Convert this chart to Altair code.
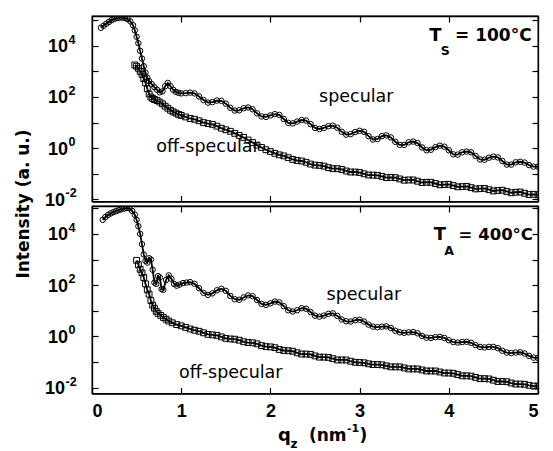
import altair as alt
import pandas as pd

# ---------------- data: (q_z [nm^-1], log10 intensity) ----------------
# Panel 1: T_S = 100 °C
spec_top = [(0.10,4.70),(0.13,4.78),(0.16,4.86),(0.19,4.93),(0.22,5.00),(0.25,5.05),(0.28,5.08),(0.31,5.10),
    (0.34,5.10),(0.37,5.08),(0.40,5.04),(0.43,4.95),(0.46,4.80),(0.48,4.60),(0.50,4.35),(0.52,4.10),
    (0.54,3.80),(0.56,3.50),(0.58,3.20),(0.60,2.95),(0.62,2.75),(0.64,2.62),(0.67,2.50),(0.70,2.38),
    (0.73,2.28),(0.76,2.18),(0.79,2.22),(0.82,2.42),(0.85,2.55),(0.88,2.42),(0.91,2.28),(0.94,2.20),
    (0.97,2.16),(1.00,2.14),(1.05,2.15),(1.10,2.17),(1.15,2.14),(1.20,2.02),(1.25,1.88),(1.30,1.78),
    (1.35,1.80),(1.40,1.86),(1.45,1.85),(1.50,1.74),(1.55,1.58),(1.60,1.47),(1.65,1.48),(1.70,1.56),
    (1.75,1.59),(1.80,1.52),(1.85,1.36),(1.90,1.24),(1.95,1.22),(2.00,1.28),(2.05,1.33),(2.10,1.30),
    (2.15,1.14),(2.20,0.99),(2.25,0.97),(2.30,1.04),(2.35,1.10),(2.40,1.08),(2.45,0.94),(2.50,0.79),
    (2.55,0.75),(2.60,0.79),(2.65,0.86),(2.70,0.88),(2.75,0.80),(2.80,0.64),(2.85,0.53),(2.90,0.55),
    (2.95,0.63),(3.00,0.68),(3.05,0.64),(3.10,0.47),(3.15,0.34),(3.20,0.36),(3.25,0.47),(3.30,0.50),
    (3.35,0.42),(3.40,0.25),(3.45,0.13),(3.50,0.13),(3.55,0.23),(3.60,0.26),(3.65,0.20),(3.70,0.03),
    (3.75,-0.08),(3.80,-0.06),(3.85,0.04),(3.90,0.10),(3.95,0.06),(4.00,-0.08),(4.05,-0.24),(4.10,-0.25),
    (4.15,-0.16),(4.20,-0.13),(4.25,-0.16),(4.30,-0.30),(4.35,-0.44),(4.40,-0.45),(4.45,-0.37),(4.50,-0.33),
    (4.55,-0.36),(4.60,-0.50),(4.65,-0.64),(4.70,-0.64),(4.75,-0.55),(4.80,-0.53),(4.85,-0.56),(4.90,-0.66),
    (4.95,-0.72),(5.00,-0.72)]

off_top = [(0.48,3.25),(0.50,3.20),(0.52,3.12),(0.54,3.00),(0.56,2.88),(0.58,2.72),(0.60,2.55),(0.62,2.32),
    (0.64,2.12),(0.66,2.00),(0.68,1.94),(0.70,1.90),(0.73,1.86),(0.76,1.80),(0.79,1.73),(0.82,1.64),
    (0.85,1.56),(0.88,1.48),(0.91,1.42),(0.94,1.37),(0.97,1.32),(1.00,1.28),(1.05,1.22),(1.10,1.16),
    (1.15,1.13),(1.20,1.07),(1.25,1.00),(1.30,0.96),(1.35,0.93),(1.40,0.86),(1.45,0.78),(1.50,0.72),
    (1.55,0.66),(1.60,0.58),(1.65,0.50),(1.70,0.42),(1.75,0.32),(1.80,0.22),(1.85,0.12),(1.90,0.03),
    (1.95,-0.06),(2.00,-0.13),(2.05,-0.20),(2.10,-0.26),(2.15,-0.30),(2.20,-0.37),(2.25,-0.44),(2.30,-0.48),
    (2.35,-0.50),(2.40,-0.55),(2.45,-0.62),(2.50,-0.66),(2.55,-0.67),(2.60,-0.70),(2.65,-0.76),(2.70,-0.80),
    (2.75,-0.80),(2.80,-0.83),(2.85,-0.89),(2.90,-0.93),(2.95,-0.93),(3.00,-0.95),(3.05,-1.00),(3.10,-1.05),
    (3.15,-1.05),(3.20,-1.06),(3.25,-1.10),(3.30,-1.15),(3.35,-1.14),(3.40,-1.15),(3.45,-1.20),(3.50,-1.25),
    (3.55,-1.24),(3.60,-1.24),(3.65,-1.29),(3.70,-1.34),(3.75,-1.33),(3.80,-1.33),(3.85,-1.38),(3.90,-1.43),
    (3.95,-1.42),(4.00,-1.41),(4.05,-1.46),(4.10,-1.51),(4.15,-1.50),(4.20,-1.49),(4.25,-1.54),(4.30,-1.59),
    (4.35,-1.58),(4.40,-1.57),(4.45,-1.62),(4.50,-1.67),(4.55,-1.65),(4.60,-1.64),(4.65,-1.69),(4.70,-1.74),
    (4.75,-1.72),(4.80,-1.71),(4.85,-1.76),(4.90,-1.81),(4.95,-1.80),(5.00,-1.82)]

# Panel 2: T_A = 400 °C
spec_bot = [(0.12,4.55),(0.15,4.66),(0.18,4.74),(0.21,4.80),(0.24,4.85),(0.27,4.89),(0.30,4.93),(0.33,4.96),
    (0.36,4.99),(0.39,5.01),(0.42,5.00),(0.45,4.90),(0.48,4.75),(0.50,4.55),(0.52,4.30),(0.54,4.00),
    (0.56,3.60),(0.58,3.20),(0.60,2.95),(0.62,2.88),(0.64,3.05),(0.66,3.00),(0.68,2.60),(0.70,2.10),
    (0.72,2.05),(0.74,2.35),(0.76,2.30),(0.78,1.85),(0.80,1.82),(0.83,2.20),(0.86,2.38),(0.89,2.25),
    (0.92,2.05),(0.95,1.98),(0.98,2.02),(1.02,2.08),(1.06,2.10),(1.10,2.12),(1.15,2.05),(1.20,1.88),
    (1.25,1.70),(1.30,1.62),(1.35,1.68),(1.40,1.80),(1.45,1.86),(1.50,1.78),(1.55,1.58),(1.60,1.45),
    (1.65,1.43),(1.70,1.52),(1.75,1.60),(1.80,1.57),(1.85,1.42),(1.90,1.27),(1.95,1.23),(2.00,1.29),
    (2.05,1.36),(2.10,1.33),(2.15,1.18),(2.20,1.02),(2.25,0.97),(2.30,1.02),(2.35,1.10),(2.40,1.08),
    (2.45,0.95),(2.50,0.81),(2.55,0.77),(2.60,0.81),(2.65,0.88),(2.70,0.90),(2.75,0.80),(2.80,0.66),
    (2.85,0.59),(2.90,0.58),(2.95,0.63),(3.00,0.65),(3.05,0.58),(3.10,0.46),(3.15,0.38),(3.20,0.36),
    (3.25,0.38),(3.30,0.39),(3.35,0.33),(3.40,0.22),(3.45,0.16),(3.50,0.14),(3.55,0.16),(3.60,0.17),
    (3.65,0.12),(3.70,0.02),(3.75,-0.05),(3.80,-0.06),(3.85,-0.03),(3.90,-0.02),(3.95,-0.06),(4.00,-0.15),
    (4.05,-0.22),(4.10,-0.24),(4.15,-0.22),(4.20,-0.21),(4.25,-0.25),(4.30,-0.34),(4.35,-0.41),(4.40,-0.43),
    (4.45,-0.41),(4.50,-0.41),(4.55,-0.46),(4.60,-0.56),(4.65,-0.63),(4.70,-0.65),(4.75,-0.63),(4.80,-0.62),
    (4.85,-0.67),(4.90,-0.76),(4.95,-0.83),(5.00,-0.84)]

off_bot = [(0.50,2.97),(0.52,2.80),(0.54,2.62),(0.56,2.48),(0.58,2.30),(0.60,2.05),(0.62,1.82),(0.64,1.65),
    (0.66,1.40),(0.68,1.22),(0.70,1.10),(0.72,0.98),(0.74,0.90),(0.77,0.82),(0.80,0.74),(0.83,0.67),
    (0.86,0.60),(0.90,0.53),(0.95,0.46),(1.00,0.41),(1.05,0.35),(1.10,0.29),(1.15,0.24),(1.20,0.20),
    (1.25,0.14),(1.30,0.08),(1.35,0.06),(1.40,0.04),(1.45,-0.02),(1.50,-0.08),(1.55,-0.10),(1.60,-0.11),
    (1.65,-0.15),(1.70,-0.21),(1.75,-0.24),(1.80,-0.25),(1.85,-0.29),(1.90,-0.36),(1.95,-0.40),(2.00,-0.41),
    (2.05,-0.44),(2.10,-0.51),(2.15,-0.55),(2.20,-0.56),(2.25,-0.58),(2.30,-0.64),(2.35,-0.69),(2.40,-0.69),
    (2.45,-0.70),(2.50,-0.76),(2.55,-0.81),(2.60,-0.81),(2.65,-0.82),(2.70,-0.87),(2.75,-0.92),(2.80,-0.92),
    (2.85,-0.92),(2.90,-0.97),(2.95,-1.01),(3.00,-1.02),(3.05,-1.03),(3.10,-1.07),(3.15,-1.10),(3.20,-1.10),
    (3.25,-1.11),(3.30,-1.15),(3.35,-1.19),(3.40,-1.19),(3.45,-1.19),(3.50,-1.23),(3.55,-1.27),(3.60,-1.27),
    (3.65,-1.27),(3.70,-1.31),(3.75,-1.35),(3.80,-1.35),(3.85,-1.35),(3.90,-1.39),(3.95,-1.43),(4.00,-1.43),
    (4.05,-1.44),(4.10,-1.49),(4.15,-1.54),(4.20,-1.54),(4.25,-1.55),(4.30,-1.60),(4.35,-1.65),(4.40,-1.65),
    (4.45,-1.66),(4.50,-1.71),(4.55,-1.76),(4.60,-1.76),(4.65,-1.77),(4.70,-1.82),(4.75,-1.86),(4.80,-1.86),
    (4.85,-1.87),(4.90,-1.91),(4.95,-1.94),(5.00,-1.94)]

x_ticks = [0, 1, 2, 3, 4, 5]
y_tick_values = [0.01, 0.1, 1, 10, 100, 1000, 10000, 100000]
# y tick labels "10^n": labelled decade values and their exponents
y_label_values = [0.01, 1, 100, 10000]
y_label_exps = ["-2", "0", "2", "4"]

# annotation texts: (text, q, log10 I [, font size])
labels_top = [("specular", 2.545, 1.80), ("off-specular", 0.72, -0.15)]
labels_bot = [("specular", 2.63, 1.43), ("off-specular", 0.975, -1.63)]
temp_top = [("T", 3.78, 4.18, 18), ("S", 3.91, 3.64, 12.5), ("= 100°C", 4.07, 4.18, 17)]
temp_bot = [("T", 3.83, 3.75, 18), ("A", 3.95, 3.17, 12.5), ("= 400°C", 4.11, 3.75, 16.5)]

TXT = "DejaVu Sans"
TCK = "'Liberation Sans Narrow', 'Liberation Sans', sans-serif"
W = 446


def frame(pairs):
    return pd.DataFrame({"q": [p[0] for p in pairs], "I": [10 ** p[1] for p in pairs]})


def panel(spec, off, ydom, h, plain, bold, bottom, ytitle):
    xs = alt.Scale(domain=[0, 5], nice=False, zero=False)
    ys = alt.Scale(type="log", domain=ydom, nice=False)
    common = dict(grid=False, domainColor="black", domainWidth=1.3, tickColor="black",
                  tickWidth=1.2, tickSize=alt.ExprRef(expr="-6"))
    ax_x = alt.Axis(orient="bottom", values=x_ticks, labels=bottom, format="d", labelPadding=15,
                    labelFont=TCK, labelFontSize=18, labelFontWeight="bold", labelColor="black",
                    title=None, **common)
    if ytitle:
        ytitle_kw = dict(title="Intensity  (a. u.)", titleFont=TXT, titleFontSize=17,
                         titleFontWeight="bold", titleColor="black", titleX=-60, titleY=187.5,
                         titleAngle=-90, titleBaseline="bottom")
    else:
        ytitle_kw = dict(title=None)
    ax_y = alt.Axis(orient="left", values=y_tick_values, labels=False, **ytitle_kw, **common)
    ax_x2 = alt.Axis(orient="top", values=x_ticks, labels=False, title=None, **common)
    ax_y2 = alt.Axis(orient="right", values=y_tick_values, labels=False, title=None, **common)

    sdf = frame(spec)
    odf = frame(off)
    spec_line = alt.Chart(sdf).mark_line(color="black", strokeWidth=1.8, clip=True).encode(
        x=alt.X("q:Q", scale=xs, axis=ax_x), y=alt.Y("I:Q", scale=ys, axis=ax_y))
    off_line = alt.Chart(odf).mark_line(color="black", strokeWidth=1.8, clip=True).encode(
        x=alt.X("q:Q", scale=xs, axis=ax_x2), y=alt.Y("I:Q", scale=ys, axis=ax_y2))
    spec_pts = alt.Chart(sdf).mark_point(shape="circle", filled=False, size=30, color="black",
                                         strokeWidth=1.0, opacity=1, clip=True).encode(
        x=alt.X("q:Q", scale=xs, axis=None), y=alt.Y("I:Q", scale=ys, axis=None))
    off_pts = alt.Chart(odf).mark_point(shape="square", filled=False, size=34, color="black",
                                        strokeWidth=1.0, opacity=1, clip=True).encode(
        x=alt.X("q:Q", scale=xs, axis=None), y=alt.Y("I:Q", scale=ys, axis=None))

    pdf = pd.DataFrame({"t": [p[0] for p in plain], "q": [p[1] for p in plain],
                        "I": [10 ** p[2] for p in plain]})
    plain_txt = alt.Chart(pdf).mark_text(font=TXT, fontSize=17.5, align="left",
                                          baseline="alphabetic", color="black").encode(
        x=alt.X("q:Q", scale=xs, axis=None), y=alt.Y("I:Q", scale=ys, axis=None), text="t:N")
    bdf = pd.DataFrame({"t": [p[0] for p in bold], "q": [p[1] for p in bold],
                        "I": [10 ** p[2] for p in bold], "fs": [p[3] for p in bold]})
    bold_txt = alt.Chart(bdf).mark_text(font=TXT, fontWeight="bold", align="left",
                                         baseline="alphabetic", color="black").encode(
        x=alt.X("q:Q", scale=xs, axis=None), y=alt.Y("I:Q", scale=ys, axis=None), text="t:N",
        size=alt.Size("fs:Q", scale=None, legend=None))

    layers = [spec_pts, off_pts, spec_line, off_line, plain_txt, bold_txt]

    # y tick labels "10" with superscript exponent
    for nchar, x10 in ((1, -24), (2, -27)):
        sel = [(v, e) for v, e in zip(y_label_values, y_label_exps) if len(e) == nchar]
        ldf = pd.DataFrame({"v": [s[0] for s in sel], "base": ["10"] * len(sel),
                            "e": [s[1] for s in sel]})
        layers.append(alt.Chart(ldf).mark_text(font=TCK, fontWeight="bold", fontSize=18,
                                               align="right", baseline="alphabetic", dy=6.5,
                                               color="black").encode(
            x=alt.value(x10), y=alt.Y("v:Q", scale=ys, axis=None), text="base:N"))
        layers.append(alt.Chart(ldf).mark_text(font=TCK, fontWeight="bold", fontSize=12.5,
                                               align="left", baseline="alphabetic", dy=-2,
                                               color="black").encode(
            x=alt.value(x10 + 0.5), y=alt.Y("v:Q", scale=ys, axis=None), text="e:N"))

    if bottom:
        parts = [("q", 186, 234.5, 18), ("z", 198.5, 241.5, 12), ("(nm", 217, 234.5, 17),
                 ("-1", 255, 225.5, 11), (")", 267.5, 234.5, 17)]
        for t, px, py, fs in parts:
            layers.append(alt.Chart(pd.DataFrame({"t": [t]})).mark_text(
                font=TXT, fontWeight="bold", fontSize=fs, align="left", baseline="alphabetic",
                color="black").encode(x=alt.value(px), y=alt.value(py), text="t:N"))
    return alt.layer(*layers).resolve_axis(x="independent", y="independent").properties(
        width=W, height=h)


top = panel(spec_top, off_top, [0.0083, 145000], 185.5, labels_top, temp_top, False, True)
bot = panel(spec_bot, off_bot, [0.0059, 123000], 187.5, labels_bot, temp_bot, True, False)

chart = alt.vconcat(top, bot, spacing=4, bounds="flush").properties(
    padding={"left": 5, "top": 6, "right": 0, "bottom": 0}
).configure_view(stroke="black", strokeWidth=1.3)

chart.save("out.html", embed_options={"renderer": "svg", "actions": False})
